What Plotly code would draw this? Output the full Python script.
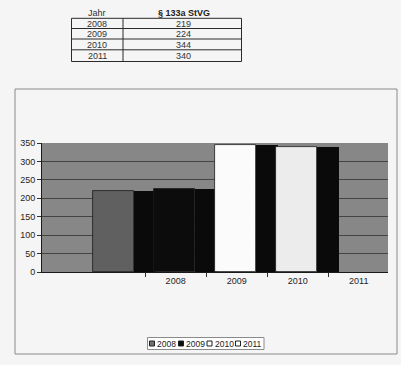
import plotly.graph_objects as go

# ---- data ----
years = ["2008", "2009", "2010", "2011"]
values = [219, 224, 344, 340]
table_header = ["Jahr", "§ 133a StVG"]
y_ticks = [0, 50, 100, 150, 200, 250, 300, 350]

front_colors = ["#606060", "#0c0c0c", "#fbfbfb", "#ececec"]
legend_colors = ["#707070", "#0c0c0c", "#ffffff", "#ffffff"]
side_color = "#0a0a0a"

W, H = 401, 365
L, R, T, B = 42, 13, 143, 93
pw = W - L - R
ph = H - T - B


def px(x):
    return (x - L) / pw


def py(y):
    return (H - B - y) / ph


fig = go.Figure()
idx = list(range(len(years)))
for i, (yr, v) in enumerate(zip(years, values)):
    # front face (shifted back one slot to mimic 3D depth)
    fig.add_bar(x=[i - 1.02], y=[v], width=0.66, name=yr,
                marker=dict(color=front_colors[i], line=dict(color="#1a1a1a", width=0.8)),
                showlegend=False)
    # side face
    fig.add_bar(x=[i - 0.51], y=[v], width=0.36, name=yr + " side",
                marker=dict(color=side_color, line=dict(width=0)),
                showlegend=False)

fig.update_layout(
    width=W, height=H, autosize=False,
    margin=dict(l=L, r=R, t=T, b=B, pad=0),
    paper_bgcolor="#f5f5f5", plot_bgcolor="#878787",
    barmode="overlay", bargap=0, showlegend=False,
    font=dict(family="Liberation Sans, Arial, sans-serif", size=9, color="#1e1e1e"),
)
fig.update_xaxes(
    range=[-2.19, 3.48], tickvals=idx, ticktext=years, ticks="",
    showgrid=False, zeroline=False, showline=True, linecolor="#1a1a1a", linewidth=1,
    minor=dict(tickvals=[i + 0.5 for i in range(-1, len(years))], ticks="outside",
               ticklen=4, tickcolor="#333", showgrid=False),
    tickfont=dict(size=9), fixedrange=True,
)
fig.update_yaxes(
    range=[0, 350], tickvals=y_ticks, ticks="outside", ticklen=4, tickcolor="#333",
    showgrid=True, gridcolor="#444444", gridwidth=1, zeroline=False,
    showline=True, linecolor="#1a1a1a", linewidth=1, tickfont=dict(size=9),
    fixedrange=True,
)

shapes = []
ann = []


def text(t, x, y, size=9, color="#333", xanchor="center"):
    ann.append(dict(text=t, x=px(x), y=py(y), xref="paper", yref="paper",
                    xanchor=xanchor, yanchor="middle", showarrow=False,
                    font=dict(size=size, color=color)))


# chart border
shapes.append(dict(type="rect", xref="paper", yref="paper", x0=px(15), x1=px(397),
                   y0=py(89), y1=py(354), line=dict(color="#8a8a8a", width=1),
                   fillcolor="rgba(0,0,0,0)", layer="below"))

# table
tx0, tx1, tcol = 71.5, 241.5, 123
row_lines = [18.3, 28.5, 39, 49.8, 61.5]
shapes.append(dict(type="rect", xref="paper", yref="paper", x0=px(tx0), x1=px(tx1),
                   y0=py(row_lines[0]), y1=py(row_lines[-1]),
                   line=dict(color="#2a2a2a", width=1)))
for yl in row_lines[1:-1]:
    shapes.append(dict(type="line", xref="paper", yref="paper", x0=px(tx0), x1=px(tx1),
                       y0=py(yl), y1=py(yl), line=dict(color="#2a2a2a", width=1)))
shapes.append(dict(type="line", xref="paper", yref="paper", x0=px(tcol), x1=px(tcol),
                   y0=py(row_lines[0]), y1=py(row_lines[-1]),
                   line=dict(color="#2a2a2a", width=1)))
text(table_header[0], 97, 12.5)
text("<b>" + table_header[1] + "</b>", 184, 13, color="#222")
for k, (yr, v) in enumerate(zip(years, values)):
    yc = (row_lines[k] + row_lines[k + 1]) / 2 + 0.5
    text(yr, 97, yc)
    text(str(v), 183, yc)

# manual legend
shapes.append(dict(type="rect", xref="paper", yref="paper", x0=px(147.5), x1=px(264),
                   y0=py(337.5), y1=py(349.5), line=dict(color="#8a8a8a", width=1),
                   fillcolor="#ffffff"))
sym_x = [149.5, 178.5, 207, 235.5]
for k, yr in enumerate(years):
    shapes.append(dict(type="rect", xref="paper", yref="paper", x0=px(sym_x[k]),
                       x1=px(sym_x[k] + 5), y0=py(341), y1=py(346),
                       line=dict(color="#222", width=1), fillcolor=legend_colors[k]))
    text(yr, sym_x[k] + 5.5, 343.5, size=8.5, color="#222", xanchor="left")

fig.update_layout(shapes=shapes, annotations=ann)
fig.write_html("out.html")
